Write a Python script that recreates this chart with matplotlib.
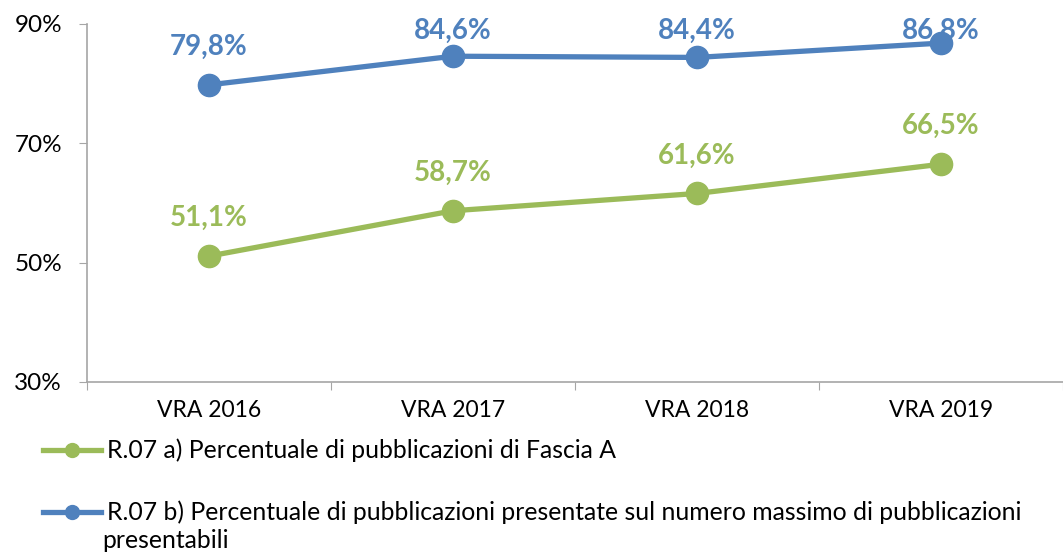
import numpy as np
import matplotlib
matplotlib.use("Agg")
import matplotlib.pyplot as plt
from matplotlib.lines import Line2D

plt.rcParams.update({"font.family": ["Lato", "DejaVu Sans"]})

YEARS = ["VRA 2016", "VRA 2017", "VRA 2018", "VRA 2019"]
FASCIA_A = [51.1, 58.7, 61.6, 66.5]
PRESENTATE = [79.8, 84.6, 84.4, 86.8]
LEG_A = "R.07 a) Percentuale di pubblicazioni di Fascia A"
LEG_B = ("R.07 b) Percentuale di pubblicazioni presentate sul numero massimo di pubblicazioni",
         "presentabili")
GREEN, BLUE = "#9BBB59", "#4F81BD"
GREY = "#A6A6A6"

W, H, DPI = 1063, 555, 100
fig = plt.figure(figsize=(W / DPI, H / DPI), dpi=DPI)
ax = fig.add_axes([87 / W, 1 - 382 / H, (W - 87) / W, (382 - 24) / H])
x = np.arange(len(YEARS))

for vals, col in ((FASCIA_A, GREEN), (PRESENTATE, BLUE)):
    ax.plot(x, vals, "-o", color=col, lw=3.8, ms=16, clip_on=False, zorder=3)

ax.set_ylim(30, 90)
ax.set_xlim(-0.5, -0.5 + (W - 87) / 246)
ax.set_yticks([30, 50, 70, 90])
ax.set_yticklabels([f"{v}%" for v in (30, 50, 70, 90)], fontsize=17.5)
ax.set_xticks(np.arange(len(YEARS) + 1) - 0.5)
ax.set_xticklabels([])
ax.set_xticks(x, minor=True)
ax.set_xticklabels(YEARS, minor=True, fontsize=16.5)
ax.tick_params(axis="y", length=6, color=GREY, pad=12)
ax.tick_params(axis="x", which="major", length=6, color=GREY)
ax.tick_params(axis="x", which="minor", length=0, pad=13)
for s in ("top", "right"):
    ax.spines[s].set_visible(False)
for s in ("left", "bottom"):
    ax.spines[s].set_color(GREY)
    ax.spines[s].set_linewidth(1.2)

# data labels: 38 px above the point, but kept inside the plot top
fig.canvas.draw()
for vals, col in ((FASCIA_A, GREEN), (PRESENTATE, BLUE)):
    for xi, v in zip(x, vals):
        py = H - ax.transData.transform((xi, v))[1]
        off = min(38, py - 31) * 72 / DPI
        ax.annotate(f"{v:.1f}%".replace(".", ","), (xi, v), xytext=(0, off),
                    textcoords="offset points", ha="center", va="center",
                    fontsize=20, fontweight="bold", color=col, zorder=4)

# legend drawn by hand so the wrapped line sits under the text
for ypix, col, lines in ((450, GREEN, [LEG_A]), (512, BLUE, list(LEG_B))):
    yf = 1 - ypix / H
    fig.add_artist(Line2D([43 / W, 101 / W], [yf, yf], color=col, lw=3.8,
                          transform=fig.transFigure))
    fig.add_artist(Line2D([72 / W], [yf], marker="o", ms=10, color=col,
                          transform=fig.transFigure))
    fig.text(107 / W, yf, lines[0], fontsize=17.8, va="center")
    if len(lines) > 1:
        fig.text(102 / W, yf - 29 / H, lines[1], fontsize=17.8, va="center")

fig.savefig("out.png", dpi=DPI)
